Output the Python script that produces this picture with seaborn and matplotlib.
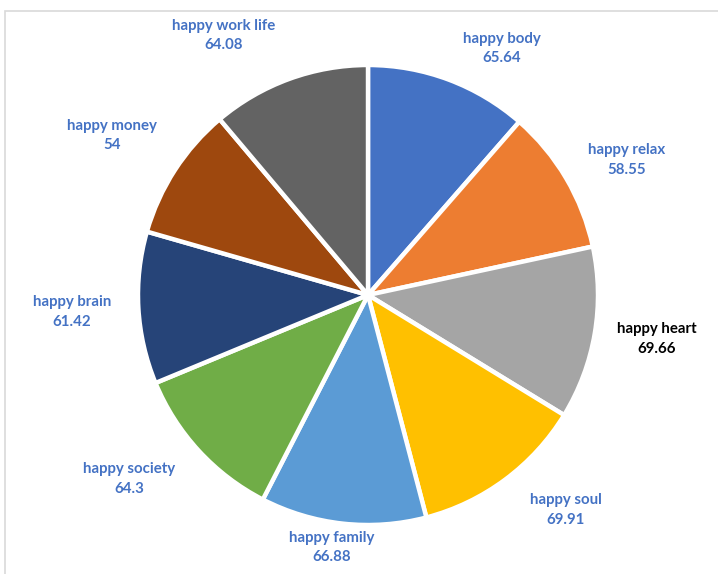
import numpy as np
import matplotlib
matplotlib.use("Agg")
import matplotlib.pyplot as plt
import seaborn as sns
from matplotlib.patches import Rectangle

# data, clockwise from 12 o'clock
labels = ["happy body", "happy relax", "happy heart", "happy soul", "happy family",
          "happy society", "happy brain", "happy money", "happy work life"]
values = [65.64, 58.55, 69.66, 69.91, 66.88, 64.3, 61.42, 54, 64.08]
value_text = ["65.64", "58.55", "69.66", "69.91", "66.88", "64.3", "61.42", "54", "64.08"]

colors = ["#4472C4", "#ED7D31", "#A5A5A5", "#FFC000", "#5B9BD5",
          "#70AD47", "#264478", "#9E480E", "#636363"]
label_colors = ["#4472C4"] * 9
label_colors[2] = "#000000"
# how far out each data label sits (in pie radii), excel squeezes some of them
label_dist = [1.22, 1.27, 1.27, 1.27, 1.11, 1.31, 1.29, 1.31, 1.29]
label_shift = [8, 3, -1, -6, 2, 5, 0, -1, -9]  # degrees, clockwise

sns.set_theme(style="white")
plt.rcParams["font.family"] = ["Lato", "DejaVu Sans"]

fig = plt.figure(figsize=(7.18, 5.74), dpi=100)
ax = fig.add_axes([0, 0, 1, 1])

wedges, _ = ax.pie(values, colors=colors, startangle=90, counterclock=False,
                   radius=1.0, wedgeprops=dict(edgecolor="white", linewidth=3.2))

total = sum(values)
start = 0.0
for i, v in enumerate(values):
    mid = start + v / total * 360 / 2 + label_shift[i]
    start += v / total * 360
    ang = np.deg2rad(mid)
    x = label_dist[i] * np.sin(ang)
    y = label_dist[i] * np.cos(ang)
    ax.text(x, y, f"{labels[i]}\n{value_text[i]}", ha="center", va="center",
            fontsize=10.8, fontweight="bold", color=label_colors[i], linespacing=1.5)

# pixel-matched limits: radius 1 = 230 px, centre at (368, 295)
ax.set_xlim(-368 / 230, (718 - 368) / 230)
ax.set_ylim(-(574 - 295) / 230, 295 / 230)
ax.set_aspect("auto")
ax.axis("off")

# chart area border
fig.patches.append(Rectangle((5 / 718, -0.1), 1.2, 1.1 - 11 / 574,
                             transform=fig.transFigure, fill=False,
                             edgecolor="#D9D9D9", linewidth=1.2))

fig.savefig("out.png", dpi=100, facecolor="white")
